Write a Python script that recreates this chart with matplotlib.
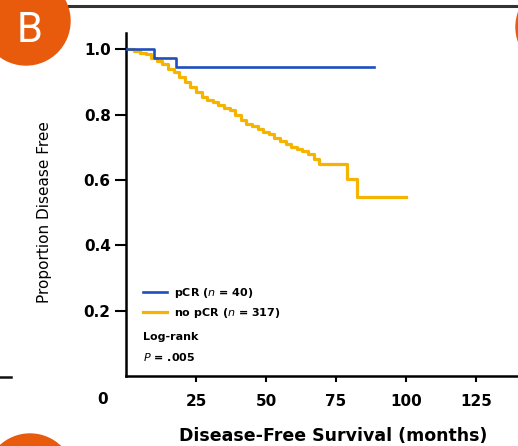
import matplotlib
matplotlib.use('Agg')
import matplotlib.pyplot as plt
from matplotlib.patches import Circle

# Kaplan-Meier step data (months, proportion disease free)
pcr_months = [0, 10, 18, 88.5]
pcr_surv = [1.0, 0.972, 0.945, 0.945]

nopcr_months = [0, 3, 5, 7, 9, 11, 13, 15, 17, 19, 21, 23, 25, 27, 29, 31, 33,
                35, 37, 39, 41, 43, 45, 47, 49, 51, 53, 55, 57, 59, 61, 63, 65,
                67, 69, 79, 82.5, 100]
nopcr_surv = [1.0, 0.995, 0.99, 0.985, 0.975, 0.965, 0.955, 0.94, 0.93, 0.915,
              0.90, 0.885, 0.87, 0.855, 0.845, 0.84, 0.83, 0.82, 0.815, 0.80,
              0.785, 0.772, 0.765, 0.755, 0.748, 0.74, 0.73, 0.72, 0.71, 0.70,
              0.695, 0.688, 0.68, 0.665, 0.649, 0.603, 0.548, 0.548]

y_ticks = [0.2, 0.4, 0.6, 0.8, 1.0]
x_ticks = [25, 50, 75, 100, 125]

W, H = 518, 446
fig = plt.figure(figsize=(W / 100, H / 100), dpi=100)
fig.patch.set_facecolor('white')

# main axes placed in pixel terms
ax = fig.add_axes([126 / W, (H - 376) / H, (W - 126) / W, (376 - 33) / H])
ax.step(nopcr_months, nopcr_surv, where='post', color='#f5b400', lw=2.3,
        label=r'no pCR ($\it{n}$ = 317)', zorder=2)
ax.step(pcr_months, pcr_surv, where='post', color='#1f4fbf', lw=1.9,
        label=r'pCR ($\it{n}$ = 40)', zorder=3)

ax.set_xlim(0, 140)
ax.set_ylim(0, 1.05)
ax.set_xticks(x_ticks)
ax.set_yticks(y_ticks)
ax.set_yticklabels([f'{v:.1f}' for v in y_ticks])
for s in ['top', 'right']:
    ax.spines[s].set_visible(False)
for s in ['left', 'bottom']:
    ax.spines[s].set_linewidth(1.8)
ax.tick_params(axis='y', direction='out', length=8, width=1.5, pad=3,
               labelsize=11)
ax.tick_params(axis='x', direction='out', length=4, width=1.5, pad=9,
               labelsize=11)
for lab in ax.get_xticklabels() + ax.get_yticklabels():
    lab.set_fontweight('bold')

# legend, ordered pCR first
h, l = ax.get_legend_handles_labels()
leg = ax.legend(h[::-1], l[::-1], loc='upper left',
                bbox_to_anchor=(0.043, 0.262), frameon=False, borderpad=0,
                borderaxespad=0, handlelength=2.2, handletextpad=0.6,
                labelspacing=0.55, prop={'size': 8, 'weight': 'bold'})
ax.text(0.043, 0.114, 'Log-rank', transform=ax.transAxes, fontsize=8,
        fontweight='bold', va='center')
ax.text(0.043, 0.056, r'$\it{P}$ = .005', transform=ax.transAxes, fontsize=8,
        fontweight='bold', va='center')

plt.rcParams['mathtext.fontset'] = 'custom'
plt.rcParams['mathtext.it'] = 'DejaVu Sans:italic:bold'

# axis titles
fig.text(45 / W, 1 - 212 / H, 'Proportion Disease Free', rotation=90,
         ha='center', va='center', fontsize=11)
fig.text(333 / W, 1 - 436 / H, 'Disease-Free Survival (months)',
         ha='center', va='center', fontsize=12.5, fontweight='bold')
fig.text(103 / W, 1 - 399 / H, '0', ha='center', va='center', fontsize=11,
         fontweight='bold')

# overlay in pixel coordinates for the page decorations
ov = fig.add_axes([0, 0, 1, 1], zorder=5)
ov.set_xlim(0, W)
ov.set_ylim(H, 0)
ov.axis('off')
ov.patch.set_alpha(0)
ov.plot([0, W], [6, 6], color='#333333', lw=2.2)
ov.plot([0, 11], [377, 377], color='#111111', lw=1.8)
orange = '#e85a0c'
ov.add_patch(Circle((26, 21), 44, color=orange, zorder=6))
ov.add_patch(Circle((560, 27), 44, color=orange, zorder=6))
ov.add_patch(Circle((30, 478), 44, color=orange, zorder=6))
ov.text(29.5, 30, 'B', color='white', fontsize=30, family='Roboto',
        ha='center', va='center', zorder=7)

fig.savefig('out.png', dpi=100)
